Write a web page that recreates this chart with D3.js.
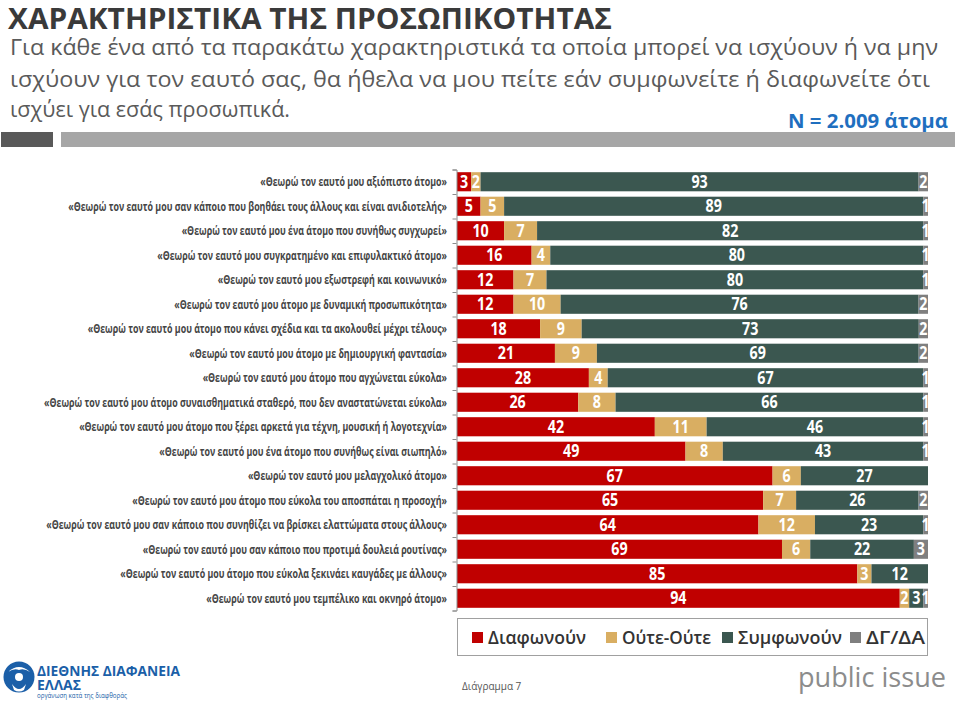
<!DOCTYPE html>
<html>
<head>
<meta charset="utf-8">
<script src="https://cdn.jsdelivr.net/npm/d3@7"></script>
<style>
  html, body { margin: 0; padding: 0; background: #ffffff; }
  svg { display: block; }
</style>
</head>
<body>
<svg id="chart" width="959" height="702"></svg>
<script>
// ---------- DATA ----------
const categories = [
  "«Θεωρώ τον εαυτό μου αξιόπιστο άτομο»",
  "«Θεωρώ τον εαυτό μου σαν κάποιο που βοηθάει τους άλλους και είναι ανιδιοτελής»",
  "«Θεωρώ τον εαυτό μου ένα άτομο που συνήθως συγχωρεί»",
  "«Θεωρώ τον εαυτό μου συγκρατημένο και επιφυλακτικό άτομο»",
  "«Θεωρώ τον εαυτό μου εξωστρεφή και κοινωνικό»",
  "«Θεωρώ τον εαυτό μου άτομο με δυναμική προσωπικότητα»",
  "«Θεωρώ τον εαυτό μου άτομο που κάνει σχέδια και τα ακολουθεί μέχρι τέλους»",
  "«Θεωρώ τον εαυτό μου άτομο με δημιουργική φαντασία»",
  "«Θεωρώ τον εαυτό μου άτομο που αγχώνεται εύκολα»",
  "«Θεωρώ τον εαυτό μου άτομο συναισθηματικά σταθερό, που δεν αναστατώνεται εύκολα»",
  "«Θεωρώ τον εαυτό μου άτομο που ξέρει αρκετά για τέχνη, μουσική ή λογοτεχνία»",
  "«Θεωρώ τον εαυτό μου ένα άτομο που συνήθως είναι σιωπηλό»",
  "«Θεωρώ τον εαυτό μου μελαγχολικό άτομο»",
  "«Θεωρώ τον εαυτό μου άτομο που εύκολα του αποσπάται η προσοχή»",
  "«Θεωρώ τον εαυτό μου σαν κάποιο που συνηθίζει να βρίσκει ελαττώματα στους άλλους»",
  "«Θεωρώ τον εαυτό μου σαν κάποιο που προτιμά δουλειά ρουτίνας»",
  "«Θεωρώ τον εαυτό μου άτομο που εύκολα ξεκινάει καυγάδες με άλλους»",
  "«Θεωρώ τον εαυτό μου τεμπέλικο και οκνηρό άτομο»"
];
const disagree = [3, 5, 10, 16, 12, 12, 18, 21, 28, 26, 42, 49, 67, 65, 64, 69, 85, 94];
const neither  = [2, 5, 7, 4, 7, 10, 9, 9, 4, 8, 11, 8, 6, 7, 12, 6, 3, 2];
const agree    = [93, 89, 82, 80, 80, 76, 73, 69, 67, 66, 46, 43, 27, 26, 23, 22, 12, 3];
const dkna     = [2, 1, 1, 1, 1, 2, 2, 2, 1, 1, 1, 1, 0, 2, 1, 3, 0, 1];
const seriesKeys   = ["disagree", "neither", "agree", "dkna"];
const seriesNames  = ["Διαφωνούν", "Ούτε-Ούτε", "Συμφωνούν", "ΔΓ/ΔΑ"];
const seriesColors = ["#c00000", "#d9ae62", "#3b5750", "#7f7f7f"];

const titleText = "ΧΑΡΑΚΤΗΡΙΣΤΙΚΑ ΤΗΣ ΠΡΟΣΩΠΙΚΟΤΗΤΑΣ";
const subtitleLines = [
  "Για κάθε ένα από τα παρακάτω χαρακτηριστικά τα οποία μπορεί να ισχύουν ή να μην",
  "ισχύουν για τον εαυτό σας, θα ήθελα να μου πείτε εάν συμφωνείτε ή διαφωνείτε ότι",
  "ισχύει για εσάς προσωπικά."
];
const sampleText = "N = 2.009 άτομα";
const chartNumber = "Διάγραμμα 7";

// ---------- BUILD ----------
const rows = categories.map((c, i) => ({
  category: c, disagree: disagree[i], neither: neither[i], agree: agree[i], dkna: dkna[i]
}));

const svg = d3.select("#chart");
const FONT = "'Open Sans', 'Noto Sans', 'DejaVu Sans', sans-serif";

// Header
svg.append("text").attr("x", 8).attr("y", 29)
  .attr("font-family", FONT).attr("font-weight", 700).attr("font-size", 28)
  .attr("fill", "#3a3a3a")
  .attr("textLength", 604).attr("lengthAdjust", "spacingAndGlyphs")
  .text(titleText);

const subLens = [928, 920, 280];
const subY = [55, 87, 117];
subtitleLines.forEach((t, i) => {
  svg.append("text").attr("x", 10).attr("y", subY[i])
    .attr("font-family", FONT).attr("font-size", 21)
    .attr("fill", "#5a5a5a")
    .attr("textLength", subLens[i]).attr("lengthAdjust", "spacingAndGlyphs")
    .text(t);
});

svg.append("text").attr("x", 948).attr("y", 128).attr("text-anchor", "end")
  .attr("font-family", FONT).attr("font-weight", 700).attr("font-size", 20)
  .attr("fill", "#1f6fbf")
  .attr("textLength", 160).attr("lengthAdjust", "spacingAndGlyphs")
  .text(sampleText);

svg.append("rect").attr("x", 1).attr("y", 132).attr("width", 52).attr("height", 15).attr("fill", "#595959");
svg.append("rect").attr("x", 61).attr("y", 132).attr("width", 894).attr("height", 15).attr("fill", "#a6a6a6");

// Scales
const x = d3.scaleLinear().domain([0, 1]).range([457, 928]);
const y = d3.scaleBand().domain(categories).range([169.5, 610.5]).paddingInner(0.22).paddingOuter(0.11);
const yBound = d3.scaleLinear().domain([0, categories.length]).range([169.5, 610.5]);

const stack = d3.stack().keys(seriesKeys).offset(d3.stackOffsetExpand);
const stacked = stack(rows);

const layers = svg.append("g").selectAll("g").data(stacked).join("g")
  .attr("fill", (d, i) => seriesColors[i]);

layers.selectAll("rect").data(d => d).join("rect")
  .attr("x", d => x(d[0]))
  .attr("y", d => y(d.data.category))
  .attr("width", d => Math.max(0, x(d[1]) - x(d[0])))
  .attr("height", y.bandwidth());

// Value labels
const labelG = svg.append("g");
stacked.forEach((layer, li) => {
  const key = seriesKeys[li];
  const t = labelG.selectAll(null).data(layer.filter(d => d.data[key] > 0)).join("text")
    .attr("x", d => (x(d[0]) + x(d[1])) / 2)
    .attr("y", d => y(d.data.category) + y.bandwidth() / 2 + 6)
    .attr("text-anchor", "middle")
    .attr("font-family", FONT).attr("font-weight", 700).attr("font-size", 17)
    .attr("fill", "#ffffff")
    .text(d => d.data[key]);
  t.each(function () {
    const l = this.getComputedTextLength();
    d3.select(this).attr("textLength", l * 0.84).attr("lengthAdjust", "spacingAndGlyphs");
  });
});

// Axis with ticks at category boundaries
const axisG = svg.append("g").attr("transform", "translate(456.5,0)")
  .call(d3.axisLeft(yBound).tickValues(d3.range(0, categories.length + 1)).tickSize(4).tickFormat(""));
axisG.select(".domain").attr("stroke", "#8c8c8c");
axisG.selectAll(".tick line").attr("stroke", "#8c8c8c");

// Category labels
const catG = svg.append("g");
const catTexts = catG.selectAll("text").data(categories).join("text")
  .attr("x", 447)
  .attr("y", d => y(d) + y.bandwidth() / 2 + 4.5)
  .attr("text-anchor", "end")
  .attr("font-family", FONT).attr("font-weight", 700).attr("font-size", 12)
  .attr("fill", "#454545")
  .text(d => d);
// compress uniformly so the longest label spans like the reference
let maxLen = 0;
catTexts.each(function () { maxLen = Math.max(maxLen, this.getComputedTextLength()); });
const targetMax = 403;
const factor = targetMax / maxLen;
catTexts.each(function () {
  const l = this.getComputedTextLength();
  d3.select(this).attr("textLength", l * factor).attr("lengthAdjust", "spacingAndGlyphs");
});

// Legend
svg.append("rect").attr("x", 457.5).attr("y", 618.5).attr("width", 470).attr("height", 37)
  .attr("fill", "#ffffff").attr("stroke", "#a0a0a0").attr("stroke-width", 1);
const legendX = [472, 606, 722, 850];
const legendW = [98, 89, 104, 59];
seriesNames.forEach((n, i) => {
  svg.append("rect").attr("x", legendX[i]).attr("y", 632).attr("width", 11).attr("height", 11)
    .attr("fill", seriesColors[i]);
  svg.append("text").attr("x", legendX[i] + 16).attr("y", 644)
    .attr("font-family", FONT).attr("font-weight", 600).attr("font-size", 18).attr("fill", "#333333")
    .attr("textLength", legendW[i]).attr("lengthAdjust", "spacingAndGlyphs")
    .text(n);
});

// Footer
svg.append("text").attr("x", 462).attr("y", 690)
  .attr("font-family", FONT).attr("font-size", 10).attr("fill", "#555555")
  .text(chartNumber);

svg.append("text").attr("x", 798).attr("y", 687)
  .attr("font-family", FONT).attr("font-size", 28).attr("fill", "#8c8c8c")
  .attr("textLength", 148).attr("lengthAdjust", "spacingAndGlyphs")
  .text("public issue");

// Transparency International Greece logo
const logo = svg.append("g");
logo.append("circle").attr("cx", 19).attr("cy", 677).attr("r", 15.5).attr("fill", "#1b5fa8");
logo.append("path").attr("d", "M8,672 Q19,662 30,672 Q24,668 19,670 Q14,668 8,672 Z").attr("fill", "#ffffff");
logo.append("circle").attr("cx", 19).attr("cy", 677).attr("r", 4).attr("fill", "#ffffff");
logo.append("path").attr("d", "M12,684 Q19,694 26,684 L24,690 Q19,693 14,690 Z").attr("fill", "#ffffff");
logo.append("text").attr("x", 37).attr("y", 676)
  .attr("font-family", FONT).attr("font-weight", 700).attr("font-size", 14).attr("fill", "#1b5fa8")
  .attr("textLength", 143).attr("lengthAdjust", "spacingAndGlyphs")
  .text("ΔΙΕΘΝΗΣ ΔΙΑΦΑΝΕΙΑ");
logo.append("text").attr("x", 37).attr("y", 690)
  .attr("font-family", FONT).attr("font-weight", 700).attr("font-size", 14).attr("fill", "#1b5fa8")
  .attr("textLength", 44).attr("lengthAdjust", "spacingAndGlyphs")
  .text("ΕΛΛΑΣ");
logo.append("text").attr("x", 37).attr("y", 698)
  .attr("font-family", FONT).attr("font-size", 7).attr("fill", "#1b5fa8")
  .attr("textLength", 90).attr("lengthAdjust", "spacingAndGlyphs")
  .text("οργάνωση κατά της διαφθοράς");
</script>
</body>
</html>
